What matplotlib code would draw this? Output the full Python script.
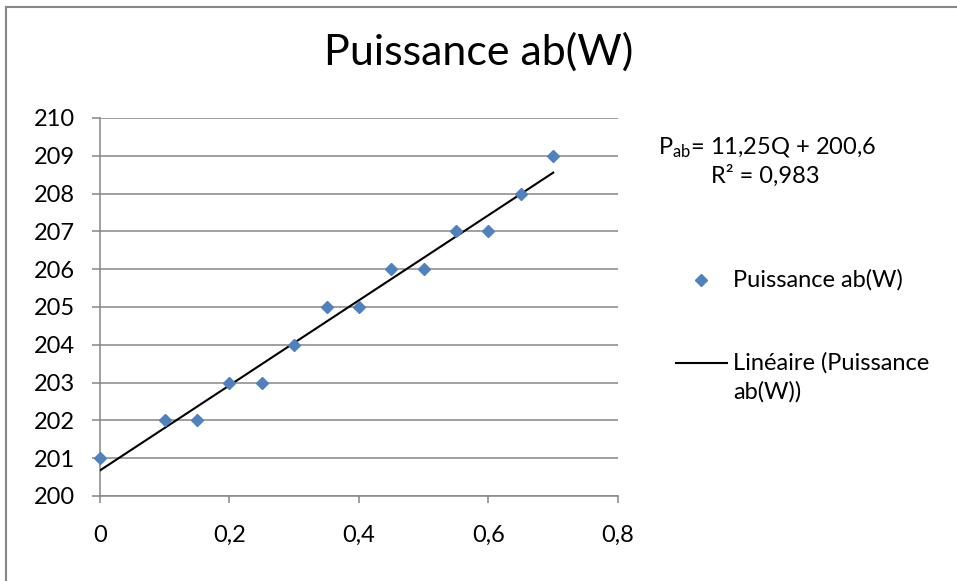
import numpy as np
import matplotlib
matplotlib.use("Agg")
import matplotlib.pyplot as plt
from matplotlib.ticker import FuncFormatter
from matplotlib.lines import Line2D

plt.rcParams['font.family'] = ['Lato', 'DejaVu Sans']
plt.rcParams['mathtext.fontset'] = 'custom'
plt.rcParams['mathtext.rm'] = 'Lato'
plt.rcParams['mathtext.it'] = 'Lato'

# Data
Q = [0, 0.1, 0.15, 0.2, 0.25, 0.3, 0.35, 0.4, 0.45, 0.5, 0.55, 0.6, 0.65, 0.7]
P_ab = [201, 202, 202, 203, 203, 204, 205, 205, 206, 206, 207, 207, 208, 209]
title = "Puissance ab(W)"
series_label = "Puissance ab(W)"
trend_label = "Linéaire (Puissance\nab(W))"
eq_text = "P$_{\\mathrm{ab}}$= 11,25Q + 200,6"
r2_text = "R² = 0,983"
xticks = [0, 0.2, 0.4, 0.6, 0.8]
yticks = list(range(200, 211))

W, H = 957, 581
fig = plt.figure(figsize=(W / 100, H / 100), dpi=100)
ax = fig.add_axes([100 / W, 1 - 496 / H, (618 - 100) / W, (496 - 118) / H])

grey = '#868686'
blue = '#4F81BD'

slope, intercept = np.polyfit(Q, P_ab, 1)
xfit = np.array([min(Q), max(Q)])
ax.plot(xfit, slope * xfit + intercept, color='black', lw=1.5, zorder=3)
ax.plot(Q, P_ab, linestyle='none', marker='D', ms=6.3, color=blue, zorder=4, clip_on=False)

ax.set_xlim(0, 0.8)
ax.set_ylim(200, 210)
ax.set_xticks(xticks)
ax.set_yticks(yticks)
fmt = FuncFormatter(lambda v, p: ('%g' % v).replace('.', ','))
ax.xaxis.set_major_formatter(fmt)
ax.yaxis.set_major_formatter(fmt)

ax.grid(axis='y', color=grey, lw=1.1)
ax.set_axisbelow(True)
for s in ['top', 'right']:
    ax.spines[s].set_visible(False)
for s in ['left', 'bottom']:
    ax.spines[s].set_color(grey)
    ax.spines[s].set_linewidth(1.1)
ax.tick_params(axis='y', direction='out', length=6, width=1.1, color=grey, pad=12, labelsize=17)
ax.tick_params(axis='x', direction='out', length=5, width=1.1, color=grey, pad=16, labelsize=17)

fig.text(479 / W, 1 - 52 / H, title, ha='center', va='center', fontsize=31)

# equation
fig.text(658 / W, 1 - 148 / H, eq_text, ha='left', va='center', fontsize=17)
fig.text(711 / W, 1 - 176 / H, r2_text, ha='left', va='center', fontsize=17)

# legend (manual)
fig.add_artist(Line2D([701 / W], [1 - 280 / H], marker='D', ms=6.3, color=blue, linestyle='none'))
fig.text(733 / W, 1 - 280 / H, series_label, ha='left', va='center', fontsize=17)
fig.add_artist(Line2D([676 / W, 727 / W], [1 - 363 / H, 1 - 363 / H], color='black', lw=1.5))
fig.text(733 / W, 1 - 352 / H, trend_label, ha='left', va='top', fontsize=17, linespacing=1.45)

# chart border (top and left)
fig.add_artist(Line2D([6 / W, 1], [1 - 7 / H, 1 - 7 / H], color=grey, lw=1.5))
fig.add_artist(Line2D([6 / W, 6 / W], [0, 1 - 7 / H], color=grey, lw=1.5))

fig.savefig('out.png', dpi=100)
